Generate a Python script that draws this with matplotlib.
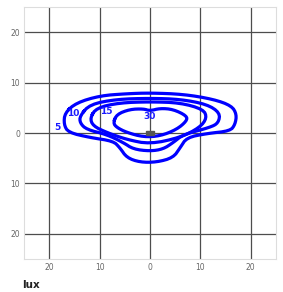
import matplotlib
matplotlib.use("Agg")
import matplotlib.pyplot as plt
import numpy as np
from matplotlib.ticker import FuncFormatter

# contour outlines (metres), one pair of lists per level
levels = [5, 10, 15, 30]
x5 = [-16.9, -14.6, -9.9, -4.6, 0, 6.6, 12.6, 16.2, 17.2, 16.9, 15.9, 11.3, 7.3, 6.0, 4.6, 1.3,
      -2.0, -4.6, -6.0, -7.3, -11.9, -16.2, -17.1]
y5 = [4.0, 6.0, 7.4, 7.8, 7.95, 7.7, 6.7, 5.4, 3.7, 1.7, 0.4, -0.1, -0.9, -2.9, -4.9, -5.8,
      -5.8, -4.9, -2.9, -1.6, -0.9, 0.1, 1.7]
x10 = [-13.9, -11.9, -6.6, 0, 6.0, 11.3, 13.9, 13.6, 11.9, 6.6, 4.6, 2.6, 0, -3.3, -5.3, -8.6,
       -12.6, -13.9]
y10 = [3.4, 5.7, 6.7, 6.9, 6.7, 5.7, 4.0, 2.0, 1.1, -0.3, -1.9, -3.2, -3.6, -3.2, -1.9, -0.3,
       0.7, 2.0]
x15 = [-11.9, -10.6, -6.0, 0, 6.0, 10.6, 11.3, 9.9, 6.0, 0, -4.6, -8.6, -11.3]
y15 = [3.0, 5.0, 6.0, 6.2, 6.0, 4.7, 3.0, 1.1, -0.9, -2.2, -1.3, 0.1, 1.4]
x30 = [-7.3, -6.6, -4.0, -1.3, 0, 2.0, 4.6, 7.3, 7.3, 5.3, 2.0, -1.3, -4.6, -6.6]
y30 = [2.0, 3.7, 4.7, 4.8, 4.4, 4.9, 4.7, 3.4, 2.4, 0.7, -0.6, -0.8, 0.1, 1.1]
label_x = [-18.3, -15.3, -8.7, 0.0]
label_y = [1.0, 3.8, 4.2, 3.2]
ticks = [-20, -10, 0, 10, 20]


def chaikin(xs, ys, n=2):
    pts = np.column_stack([xs, ys])
    for _ in range(n):
        nxt = np.roll(pts, -1, axis=0)
        q = 0.75 * pts + 0.25 * nxt
        r = 0.25 * pts + 0.75 * nxt
        pts = np.empty((len(pts) * 2, 2))
        pts[0::2] = q
        pts[1::2] = r
    pts = np.vstack([pts, pts[:1]])
    return pts[:, 0], pts[:, 1]


fig = plt.figure(figsize=(2.83, 2.92), dpi=100)
ax = fig.add_axes([0.085, 0.113, 0.89, 0.863])

for xs, ys in [(x5, y5), (x10, y10), (x15, y15), (x30, y30)]:
    sx, sy = chaikin(xs, ys)
    ax.plot(sx, sy, color="#0000ff", lw=2.3, zorder=3)

for lx, ly, lv in zip(label_x, label_y, levels):
    ax.text(lx, ly, str(lv), color="#1a1aff", fontsize=6.5, fontweight="bold",
            ha="center", va="center", zorder=4)

# luminaire marker
ax.add_patch(plt.Rectangle((-0.7, -0.4), 1.4, 0.8, color="#555555", zorder=5))

ax.set_xlim(-25, 25)
ax.set_ylim(-25, 25)
ax.set_xticks(ticks)
ax.set_yticks(ticks)
fmt = FuncFormatter(lambda v, p: f"{abs(int(v))}")
ax.xaxis.set_major_formatter(fmt)
ax.yaxis.set_major_formatter(fmt)
ax.tick_params(length=0, labelsize=5.5, labelcolor="#666666", pad=3)
ax.grid(True, color="#4d4d4d", lw=0.9)
ax.set_axisbelow(True)
for s in ax.spines.values():
    s.set_color("#dddddd")

fig.text(0.078, 0.015, "lux", fontsize=7.5, fontweight="bold", color="#222222")

fig.savefig("out.png", dpi=100)
